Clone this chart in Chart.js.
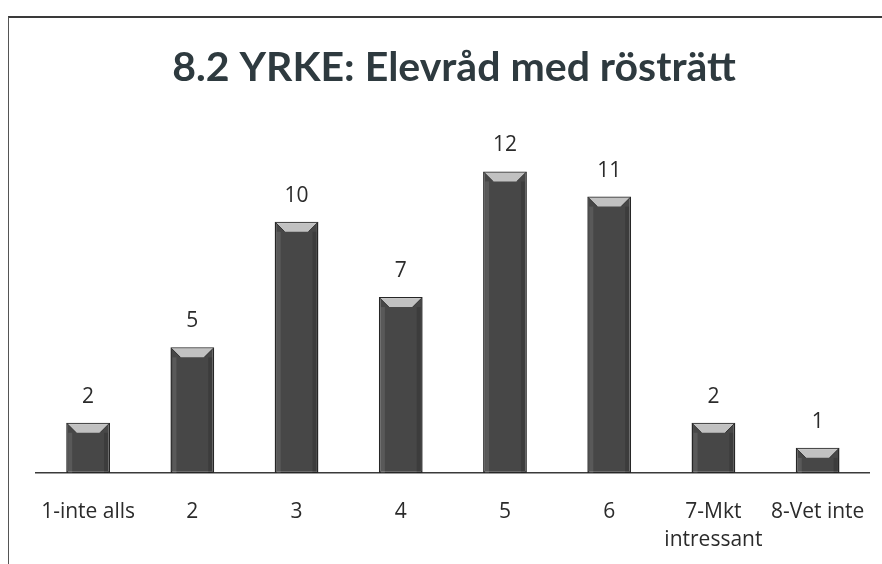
<!DOCTYPE html>
<html>
<head>
<meta charset="utf-8">
<script src="https://cdn.jsdelivr.net/npm/chart.js@4.4.1/dist/chart.umd.min.js"></script>
<style>
  html,body{margin:0;padding:0;background:#fff;}
  #wrap{position:relative;width:882px;height:564px;overflow:hidden;}
  #frame{position:absolute;left:8px;top:16px;width:900px;height:600px;border-top:2px solid #3a3a3a;border-left:1.5px solid #555;box-sizing:border-box;pointer-events:none;}
  canvas{position:absolute;left:0;top:0;}
</style>
</head>
<body>
<div id="wrap">
<canvas id="c" width="882" height="564"></canvas>
<div id="frame"></div>
</div>
<script>
const titleText = "8.2 YRKE: Elevråd med rösträtt";
const categories = ["1-inte alls", "2", "3", "4", "5", "6", ["7-Mkt", "intressant"], "8-Vet inte"];
const values = [2, 5, 10, 7, 12, 11, 2, 1];

const bevelPlugin = {
  id: 'bevel',
  afterDatasetsDraw(chart) {
    const ctx = chart.ctx;
    const meta = chart.getDatasetMeta(0);
    meta.data.forEach((bar, i) => {
      const w = bar.width;
      const l = bar.x - w / 2, r = bar.x + w / 2;
      const top = bar.y, base = bar.base;
      const b = 10;
      ctx.save();
      ctx.fillStyle = 'rgba(215,215,215,0.85)';
      ctx.beginPath();
      ctx.moveTo(l + 1, top + 1);
      ctx.lineTo(r - 1, top + 1);
      ctx.lineTo(r - b, top + b);
      ctx.lineTo(l + b, top + b);
      ctx.closePath();
      ctx.fill();
      ctx.strokeStyle = '#333';
      ctx.lineWidth = 1;
      ctx.beginPath();
      ctx.moveTo(l + 1, top + 1); ctx.lineTo(l + b, top + b);
      ctx.moveTo(r - 1, top + 1); ctx.lineTo(r - b, top + b);
      ctx.stroke();
      ctx.fillStyle = 'rgba(255,255,255,0.10)';
      ctx.fillRect(l + 2, top + b, 4, base - top - b);
      ctx.fillStyle = 'rgba(0,0,0,0.15)';
      ctx.fillRect(r - 6, top + b, 4, base - top - b);
      ctx.restore();
      ctx.save();
      ctx.fillStyle = '#2b2b2b';
      ctx.font = '21px "Open Sans", sans-serif';
      ctx.textAlign = 'center';
      ctx.textBaseline = 'middle';
      ctx.fillText(String(values[i]), bar.x, top - 26);
      ctx.restore();
    });
  }
};

new Chart(document.getElementById('c'), {
  type: 'bar',
  data: {
    labels: categories,
    datasets: [{
      data: values,
      backgroundColor: '#474747',
      borderColor: '#262626',
      borderWidth: 1.5,
      borderSkipped: false,
      barPercentage: 0.42,
      categoryPercentage: 1.0
    }]
  },
  options: {
    responsive: false,
    animation: false,
    devicePixelRatio: 1,
    layout: { padding: { left: 36, right: 10, top: 0, bottom: 0 } },
    plugins: {
      legend: { display: false },
      tooltip: { enabled: false },
      title: {
        display: true,
        text: titleText,
        color: '#2e3a3f',
        font: { family: 'Lato, "Open Sans", sans-serif', size: 41, weight: 'bold' },
        padding: { top: 43, bottom: 29 }
      }
    },
    scales: {
      x: {
        grid: { display: false },
        border: { display: true, color: '#3a3a3a', width: 1.5 },
        ticks: {
          color: '#2b2b2b',
          font: { family: '"Open Sans", sans-serif', size: 21, lineHeight: 1.33 },
          padding: 17,
          maxRotation: 0,
          autoSkip: false
        },
        afterFit: (scale) => { scale.height = 91; }
      },
      y: {
        display: false,
        min: 0,
        max: 14
      }
    }
  },
  plugins: [bevelPlugin]
});
</script>
</body>
</html>
